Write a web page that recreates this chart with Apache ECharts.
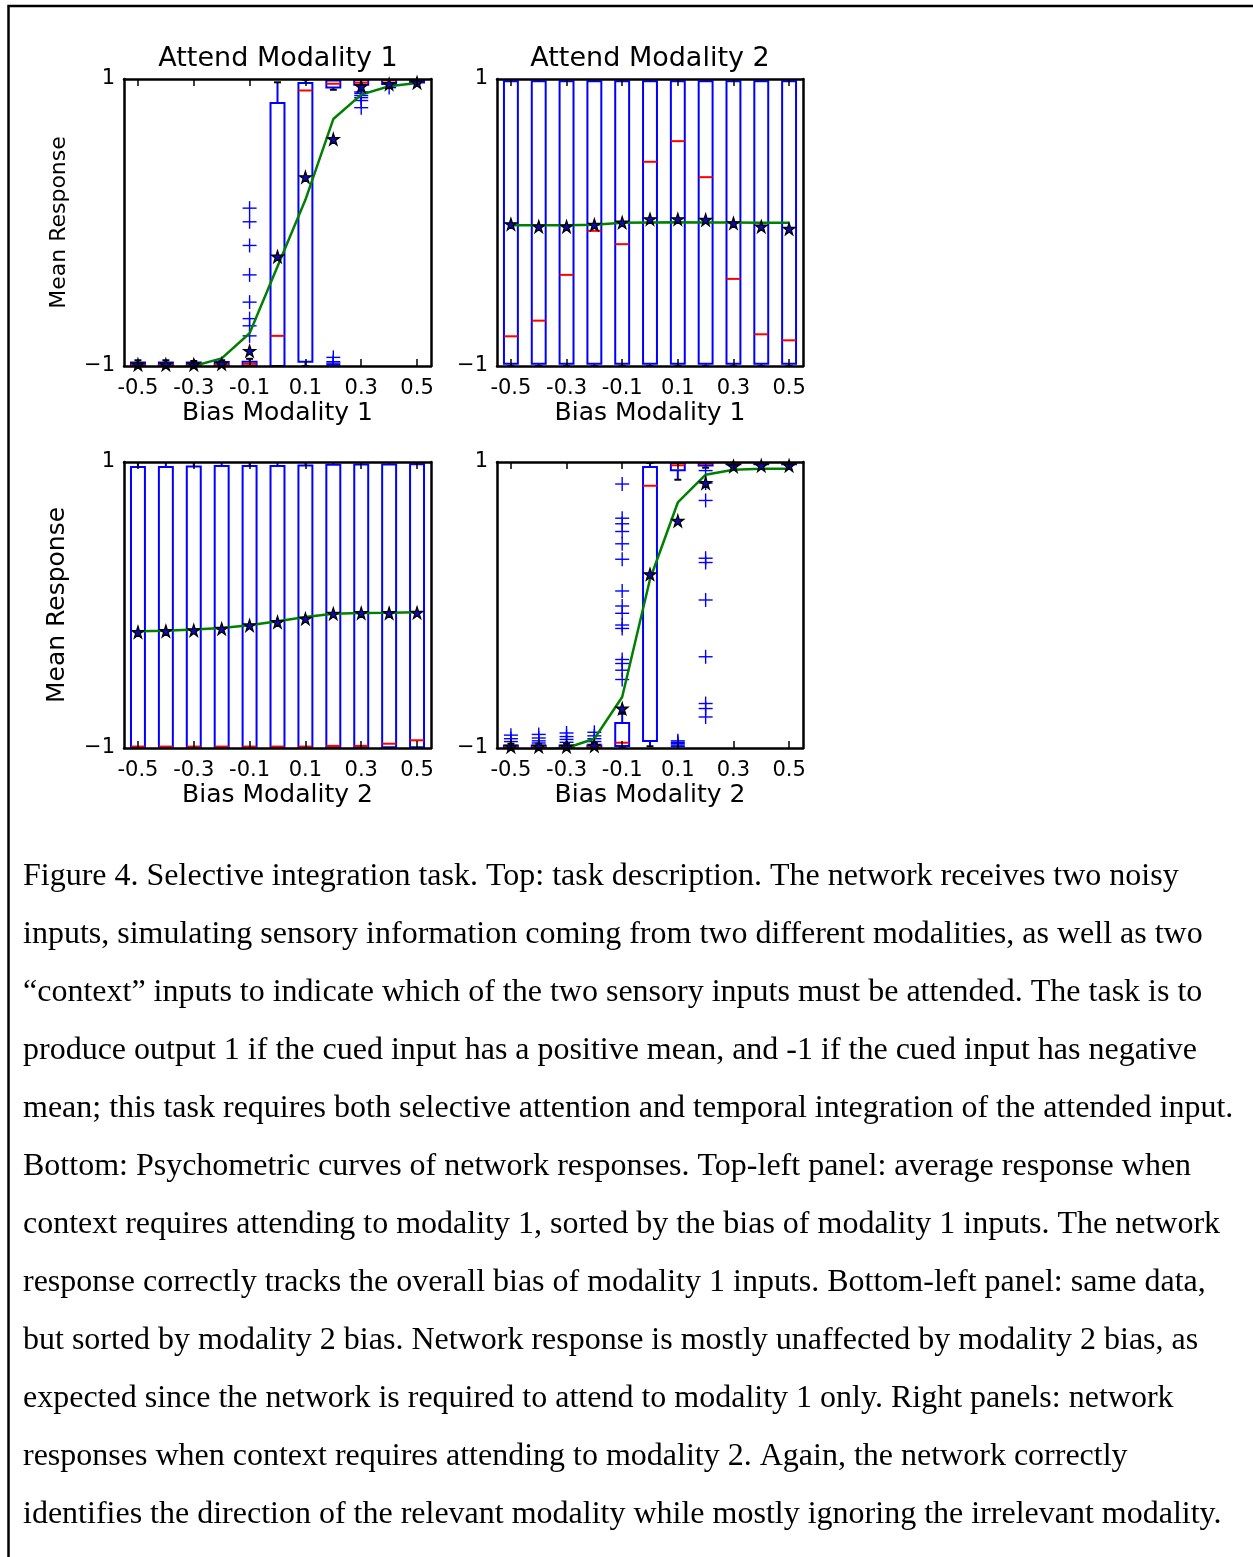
<!DOCTYPE html>
<html>
<head>
<meta charset="utf-8">
<script src="https://cdn.jsdelivr.net/npm/echarts@6/dist/echarts.min.js"></script>
<style>
  html, body { margin: 0; padding: 0; background: #ffffff; }
  #chart { width: 1253px; height: 1557px; }
</style>
</head>
<body>
<div id="chart"></div>
<script>
// ---- category axis (bias levels) ----
const biasLevels = ['-0.5', '-0.4', '-0.3', '-0.2', '-0.1', '0.0', '0.1', '0.2', '0.3', '0.4', '0.5'];

// ---- box statistics per bias level: [lowWhisker, q1, median, q3, highWhisker] ----
const att1Bias1Boxes = [
  [-1, -1, -0.99, -0.975, -0.96],
  [-1, -1, -0.99, -0.975, -0.96],
  [-1, -1, -0.99, -0.975, -0.965],
  [-1, -1, -0.99, -0.972, -0.96],
  [-1, -1, -0.985, -0.97, -0.95],
  [-1, -1, -0.79, 0.833, 0.977],
  [-1, -0.97, 0.92, 0.972, 0.995],
  [0.925, 0.94, 0.967, 0.99, 1],
  [0.95, 0.96, 0.975, 0.995, 1],
  [0.955, 0.965, 0.99, 0.995, 1],
  [0.965, 0.975, 0.99, 0.997, 1]
];
const att2Bias1Boxes = [
  [-1, -0.985, -0.793, 0.985, 1],
  [-1, -0.985, -0.684, 0.985, 1],
  [-1, -0.985, -0.365, 0.985, 1],
  [-1, -0.985, -0.058, 0.985, 1],
  [-1, -0.985, -0.151, 0.985, 1],
  [-1, -0.985, 0.423, 0.985, 1],
  [-1, -0.985, 0.567, 0.985, 1],
  [-1, -0.985, 0.316, 0.985, 1],
  [-1, -0.985, -0.393, 0.985, 1],
  [-1, -0.985, -0.779, 0.985, 1],
  [-1, -0.985, -0.821, 0.985, 1]
];
const att1Bias2Boxes = [
  [-1, -0.995, -0.99, 0.965, 1],
  [-1, -0.995, -0.99, 0.965, 1],
  [-1, -0.995, -0.99, 0.968, 1],
  [-1, -0.995, -0.99, 0.972, 1],
  [-1, -0.995, -0.99, 0.972, 1],
  [-1, -0.995, -0.99, 0.972, 1],
  [-1, -0.995, -0.99, 0.975, 1],
  [-1, -0.995, -0.985, 0.98, 1],
  [-1, -0.995, -0.985, 0.982, 1],
  [-1, -0.995, -0.97, 0.982, 1],
  [-1, -0.995, -0.946, 0.984, 1]
];
const att2Bias2Boxes = [
  [-1, -1, -0.995, -0.985, -0.97],
  [-1, -1, -0.995, -0.985, -0.97],
  [-1, -1, -0.995, -0.985, -0.97],
  [-1, -1, -0.995, -0.982, -0.965],
  [-1, -0.986, -0.963, -0.825, -0.76],
  [-0.988, -0.951, 0.834, 0.965, 0.993],
  [0.876, 0.942, 0.977, 0.993, 1],
  [0.96, 0.975, 0.988, 0.998, 1],
  [0.975, 0.985, 0.995, 1, 1],
  [0.975, 0.985, 0.995, 1, 1],
  [0.975, 0.985, 0.995, 1, 1]
];

// ---- outliers per bias level ----
const att1Bias1Fliers = [
  [], [], [], [],
  [0.10, 0.005, -0.16, -0.365, -0.555, -0.67, -0.72, -0.79],
  [], [],
  [-0.94, -0.97, -0.98, -0.99, -1.0],
  [0.91, 0.9, 0.885, 0.87, 0.85, 0.8],
  [0.94],
  []
];
const att2Bias1Fliers = [[], [], [], [], [], [], [], [], [], [], []];
const att1Bias2Fliers = [[], [], [], [], [], [], [], [], [], [], []];
const att2Bias2Fliers = [
  [-0.91, -0.935, -0.955],
  [-0.905, -0.93, -0.95, -0.965],
  [-0.895, -0.92, -0.94, -0.96],
  [-0.89, -0.915, -0.935, -0.955],
  [0.846, 0.607, 0.568, 0.514, 0.428, 0.32, 0.098, -0.007, -0.058, -0.14, -0.164, -0.381, -0.409, -0.456, -0.521],
  [],
  [-0.95, -0.96, -0.97, -0.98, -0.99],
  [0.94, 0.853, 0.731, 0.327, 0.297, 0.035, -0.362, -0.689, -0.724, -0.783],
  [], [], []
];

// ---- mean response markers ----
const att1Bias1Means = [-0.99, -0.99, -0.99, -0.985, -0.895, -0.237, 0.316, 0.581, 0.949, 0.965, 0.975];
const att2Bias1Means = [-0.012, -0.028, -0.028, -0.016, 0.0, 0.023, 0.023, 0.019, -0.005, -0.028, -0.044];
const att1Bias2Means = [-0.189, -0.182, -0.177, -0.166, -0.142, -0.119, -0.096, -0.061, -0.056, -0.056, -0.054];
const att2Bias2Means = [-0.99, -0.99, -0.99, -0.985, -0.724, 0.215, 0.589, 0.853, 0.97, 0.975, 0.975];

// ---- psychometric curves ----
const att1Bias1Curve = [-1.02, -1.02, -1.0, -0.947, -0.772, -0.307, 0.158, 0.721, 0.891, 0.949, 0.972];
const att2Bias1Curve = [-0.02, -0.02, -0.02, -0.015, -0.002, 0.0, 0.002, 0.0, 0.0, -0.002, -0.002];
const att1Bias2Curve = [-0.184, -0.18, -0.172, -0.161, -0.142, -0.114, -0.084, -0.061, -0.056, -0.054, -0.051];
const att2Bias2Curve = [-1.02, -1.01, -1.0, -0.935, -0.643, 0.18, 0.717, 0.911, 0.946, 0.953, 0.953];

// ---- text ----
const panelTitles = ['Attend Modality 1', 'Attend Modality 2'];
const xAxisNames = ['Bias Modality 1', 'Bias Modality 1', 'Bias Modality 2', 'Bias Modality 2'];
const yAxisName = 'Mean Response';
const captionLines = [
  'Figure 4. Selective integration task. Top: task description. The network receives two noisy',
  'inputs, simulating sensory information coming from two different modalities, as well as two',
  '\u201ccontext\u201d inputs to indicate which of the two sensory inputs must be attended. The task is to',
  'produce output 1 if the cued input has a positive mean, and -1 if the cued input has negative',
  'mean; this task requires both selective attention and temporal integration of the attended input.',
  'Bottom: Psychometric curves of network responses. Top-left panel: average response when',
  'context requires attending to modality 1, sorted by the bias of modality 1 inputs. The network',
  'response correctly tracks the overall bias of modality 1 inputs. Bottom-left panel: same data,',
  'but sorted by modality 2 bias. Network response is mostly unaffected by modality 2 bias, as',
  'expected since the network is required to attend to modality 1 only. Right panels: network',
  'responses when context requires attending to modality 2. Again, the network correctly',
  'identifies the direction of the relevant modality while mostly ignoring the irrelevant modality.'
];

// ---- layout ----
const panels = [
  { grid: { left: 124, top: 79, width: 307, height: 287 }, boxes: att1Bias1Boxes, fliers: att1Bias1Fliers, means: att1Bias1Means, curve: att1Bias1Curve, yName: true, yNameSize: 22 },
  { grid: { left: 497, top: 79, width: 306, height: 287 }, boxes: att2Bias1Boxes, fliers: att2Bias1Fliers, means: att2Bias1Means, curve: att2Bias1Curve, yName: false },
  { grid: { left: 124, top: 462, width: 307, height: 286 }, boxes: att1Bias2Boxes, fliers: att1Bias2Fliers, means: att1Bias2Means, curve: att1Bias2Curve, yName: true, yNameSize: 25 },
  { grid: { left: 497, top: 462, width: 306, height: 286 }, boxes: att2Bias2Boxes, fliers: att2Bias2Fliers, means: att2Bias2Means, curve: att2Bias2Curve, yName: false }
];

const FONT = 'DejaVu Sans';
const BLUE = '#0000ff';
const STAR = 'path://M50,0 L61.2,34.5 L97.6,34.5 L68.2,55.9 L79.4,90.5 L50,69.1 L20.6,90.5 L31.8,55.9 L2.4,34.5 L38.8,34.5 Z';

function renderBox(params, api) {
  const i = api.value(0);
  const bw = api.size([1, 0])[0] * 0.5;
  const cw = bw * 0.5;
  const x = api.coord([i, 0])[0];
  const yLo = api.coord([i, api.value(1)])[1];
  const yQ1 = api.coord([i, api.value(2)])[1];
  const yMed = api.coord([i, api.value(3)])[1];
  const yQ3 = api.coord([i, api.value(4)])[1];
  const yHi = api.coord([i, api.value(5)])[1];
  const blue = { stroke: BLUE, lineWidth: 2, fill: null };
  return {
    type: 'group',
    children: [
      { type: 'line', shape: { x1: x, y1: yQ3, x2: x, y2: yHi }, style: blue },
      { type: 'line', shape: { x1: x, y1: yQ1, x2: x, y2: yLo }, style: blue },
      { type: 'rect', shape: { x: x - bw / 2, y: yQ3, width: bw, height: Math.max(yQ1 - yQ3, 1) }, style: blue },
      { type: 'line', shape: { x1: x - cw / 2, y1: yHi, x2: x + cw / 2, y2: yHi }, style: { stroke: '#000', lineWidth: 2 } },
      { type: 'line', shape: { x1: x - cw / 2, y1: yLo, x2: x + cw / 2, y2: yLo }, style: { stroke: '#000', lineWidth: 2 } },
      { type: 'line', shape: { x1: x - bw / 2, y1: yMed, x2: x + bw / 2, y2: yMed }, style: { stroke: '#ff0000', lineWidth: 2 } }
    ]
  };
}

function renderFlier(params, api) {
  const p = api.coord([api.value(0), api.value(1)]);
  const h = 7;
  const st = { stroke: BLUE, lineWidth: 1.4 };
  return {
    type: 'group',
    children: [
      { type: 'line', shape: { x1: p[0] - h, y1: p[1], x2: p[0] + h, y2: p[1] }, style: st },
      { type: 'line', shape: { x1: p[0], y1: p[1] - h, x2: p[0], y2: p[1] + h }, style: st }
    ]
  };
}

const grids = [], xAxes = [], yAxes = [], series = [];
const axisLine = { show: true, onZero: false, lineStyle: { color: '#000', width: 2.5 } };

panels.forEach((pn, g) => {
  grids.push(Object.assign({ containLabel: false }, pn.grid));
  const tick = { show: true, inside: true, alignWithLabel: true, interval: 1, length: 7, lineStyle: { color: '#000', width: 1.5 } };
  xAxes.push({
    gridIndex: g, type: 'category', data: biasLevels, position: 'bottom', boundaryGap: true, z: 6,
    axisLine: axisLine, axisTick: tick,
    axisLabel: { interval: 1, color: '#000', fontFamily: FONT, fontSize: 21, margin: 12 },
    splitLine: { show: false },
    name: xAxisNames[g], nameLocation: 'middle', nameGap: 35,
    nameTextStyle: { color: '#000', fontFamily: FONT, fontSize: 25 }
  });
  xAxes.push({
    gridIndex: g, type: 'category', data: biasLevels, position: 'top', boundaryGap: true, z: 6,
    axisLine: axisLine, axisTick: tick, axisLabel: { show: false }, splitLine: { show: false }
  });
  const yLeft = {
    gridIndex: g, type: 'value', min: -1, max: 1, interval: 1, position: 'left', z: 6,
    axisLine: axisLine, axisTick: { show: false }, splitLine: { show: false },
    axisLabel: {
      color: '#000', fontFamily: FONT, fontSize: 21, margin: 9, padding: [6, 0, 0, 0],
      formatter: v => (v === 1 ? '1' : v === -1 ? '\u22121' : '')
    }
  };
  if (pn.yName) {
    yLeft.name = yAxisName;
    yLeft.nameLocation = 'middle';
    yLeft.nameGap = 54;
    yLeft.nameRotate = 90;
    yLeft.nameTextStyle = { color: '#000', fontFamily: FONT, fontSize: pn.yNameSize };
  }
  yAxes.push(yLeft);
  yAxes.push({
    gridIndex: g, type: 'value', min: -1, max: 1, interval: 1, position: 'right', z: 6,
    axisLine: axisLine, axisTick: { show: false }, axisLabel: { show: false }, splitLine: { show: false }
  });

  const axes = { xAxisIndex: 2 * g, yAxisIndex: 2 * g };
  series.push(Object.assign({
    type: 'custom', clip: true, z: 2, silent: true,
    renderItem: renderBox,
    encode: { x: 0, y: [1, 2, 3, 4, 5] },
    data: pn.boxes.map((b, i) => [i].concat(b))
  }, axes));
  const fl = [];
  pn.fliers.forEach((vals, i) => vals.forEach(v => fl.push([i, v])));
  series.push(Object.assign({
    type: 'custom', clip: true, z: 3, silent: true,
    renderItem: renderFlier,
    encode: { x: 0, y: 1 },
    data: fl
  }, axes));
  series.push(Object.assign({
    type: 'line', z: 4, silent: true, symbol: 'none', clip: true,
    lineStyle: { color: '#008000', width: 2.5 },
    data: pn.curve
  }, axes));
  series.push(Object.assign({
    type: 'scatter', z: 5, silent: true, symbol: STAR, symbolSize: 12,
    itemStyle: { color: '#0b0bb0', borderColor: '#000', borderWidth: 1.2, opacity: 1 },
    data: pn.means
  }, axes));
});

const graphics = [
  // frame around the figure
  { type: 'polyline', shape: { points: [[8.5, 1600], [8.5, 6], [1300, 6]] }, style: { stroke: '#000', lineWidth: 2.5, fill: null } },
  { type: 'text', x: 278, y: 59, style: { text: panelTitles[0], font: '27px "DejaVu Sans"', fill: '#000', align: 'center', verticalAlign: 'middle' } },
  { type: 'text', x: 650, y: 59, style: { text: panelTitles[1], font: '27px "DejaVu Sans"', fill: '#000', align: 'center', verticalAlign: 'middle' } }
];
captionLines.forEach((line, k) => {
  graphics.push({
    type: 'text', x: 23, y: 877 + 58 * k,
    style: { text: line, font: '32px "Liberation Serif"', fill: '#000', align: 'left', verticalAlign: 'middle' }
  });
});

const chart = echarts.init(document.getElementById('chart'), null, { renderer: 'canvas' });
chart.setOption({
  backgroundColor: '#ffffff',
  animation: false,
  grid: grids,
  xAxis: xAxes,
  yAxis: yAxes,
  series: series,
  graphic: graphics
});
</script>
</body>
</html>
